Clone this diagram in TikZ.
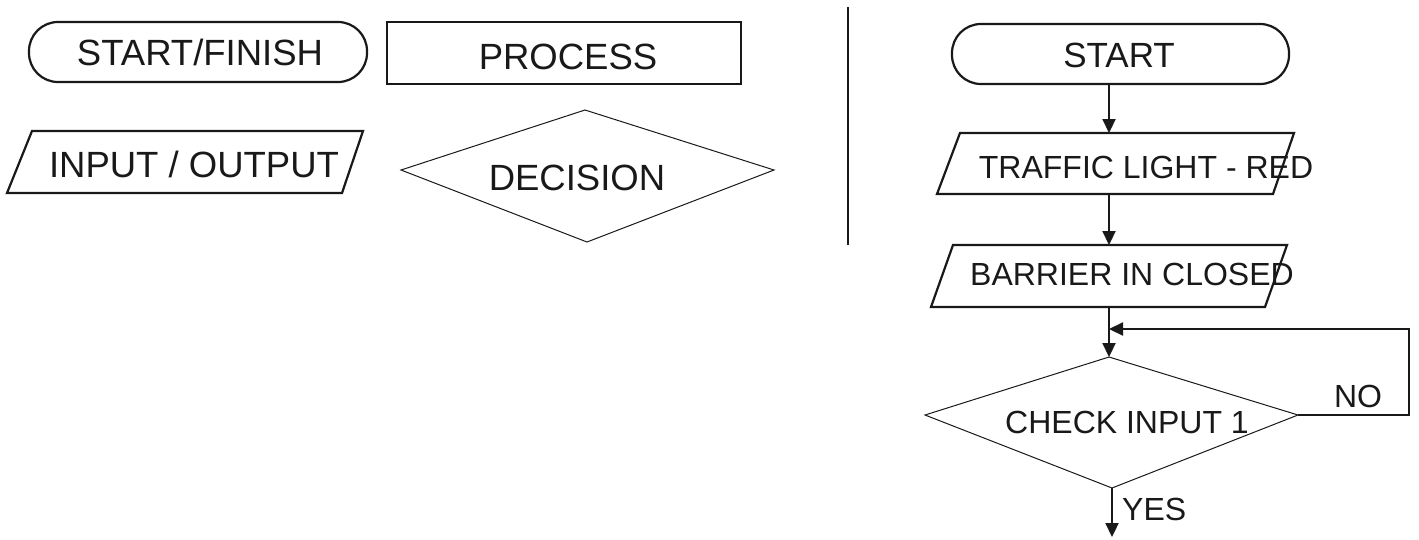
\documentclass[tikz,border=0pt]{standalone}
\usepackage{fontspec}
\setmainfont{Liberation Sans}
\usetikzlibrary{arrows.meta}
\begin{document}
\begin{tikzpicture}[x=1pt,y=-1pt,
  outline/.style={draw=black!90, line width=2.2pt, line join=miter},
  thinoutline/.style={draw=black!90, line width=1pt},
  lbl/.style={anchor=base, inner sep=0pt, text=black!90},
  big/.style={lbl, font=\fontsize{36.5}{40}\selectfont},
  mid/.style={lbl, font=\fontsize{35}{40}\selectfont},
  small/.style={lbl, font=\fontsize{32}{36}\selectfont},
  flowline/.style={draw=black!90, line width=2.2pt},
  flowarrow/.style={flowline, -{Triangle[length=14pt,width=13pt]}}]
\useasboundingbox (0,0) rectangle (1419,539);
% ---------- legend ----------
\draw[outline, rounded corners=29pt] (29,22) rectangle (367,82);
\node[big] (sfT) at (200,65) {START/FINISH};
\draw[outline] (387,22) rectangle (741,84);
\node[big] (prT) at (568,69) {PROCESS};
\draw[outline] (32,131) -- (363,131) -- (342,193) -- (7,193) -- cycle;
\node[big] (ioT) at (194,177) {INPUT / OUTPUT};
\draw[thinoutline] (401,170) -- (585,110) -- (774,170) -- (587,242) -- cycle;
\node[big] (deT) at (577,190) {DECISION};
% separator
\coordinate (sepTop) at (848,7);
\coordinate (sepBot) at (848,245);
\draw[flowline] (sepTop) -- (sepBot);
% ---------- flowchart ----------
\draw[outline, rounded corners=29pt] (952,24) rectangle (1289,84);
\node[mid] (start) at (1119,67) {START};
\coordinate (startB) at (1109,84);
\draw[outline] (960,133) -- (1294,133) -- (1273,194) -- (937,194) -- cycle;
\coordinate (tlT) at (1109,133);
\coordinate (tlB) at (1109,194);
\node[small] (tl) at (1146,178) {TRAFFIC LIGHT - RED};
\draw[outline] (953,245) -- (1287,245) -- (1265,307) -- (931,307) -- cycle;
\coordinate (brT) at (1109,245);
\coordinate (brB) at (1109,307);
\node[small] (br) at (1132,285) {BARRIER IN CLOSED};
\draw[thinoutline] (925,415) -- (1109,357) -- (1298,415) -- (1112,488) -- cycle;
\coordinate (ciT) at (1109,357);
\coordinate (ciR) at (1298,415);
\coordinate (ciB) at (1112,488);
\node[small] (ci) at (1127,433) {CHECK INPUT 1};
\coordinate (merge) at (1109,329);
\coordinate (loopTop) at (1409,329);
\coordinate (endP) at (1112,537);
% connectors
\draw[flowarrow] (startB) -- (tlT);
\draw[flowarrow] (tlB) -- (brT);
\draw[flowline] (brB) -- (merge);
\draw[flowarrow] (merge) -- (ciT);
\draw[flowarrow] (ciR) -| (loopTop) -- (merge);
\draw[flowarrow] (ciB) -- (endP);
\node[small] (no) at (1358,407) {NO};
\node[small, anchor=base west] (yes) at (1122,520) {YES};
\end{tikzpicture}
\end{document}
